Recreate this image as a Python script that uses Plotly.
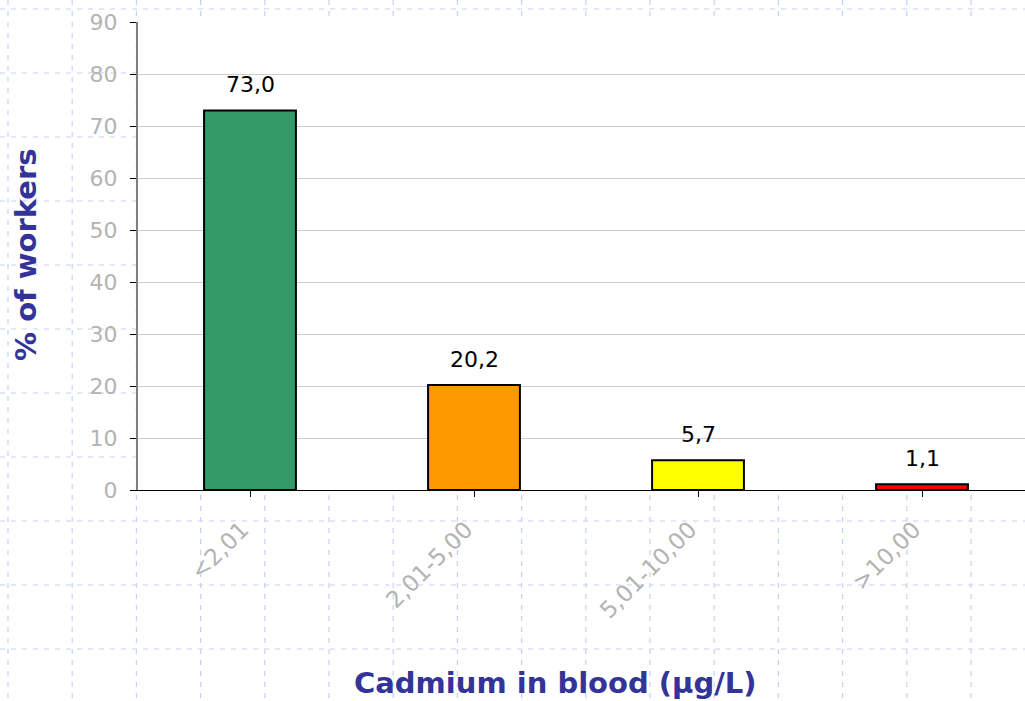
import plotly.graph_objects as go

categories = ["<2,01", "2,01-5,00", "5,01-10,00", ">10,00"]
values = [73.0, 20.2, 5.7, 1.1]
colors = ["#339966", "#FF9900", "#FFFF00", "#FF0000"]
y_ticks = [0, 10, 20, 30, 40, 50, 60, 70, 80, 90]

W, H = 1025, 701
ML, MR, MT, MB = 138, 0, 22, 211
PW, PH = W - ML - MR, H - MT - MB

def px2x(px):
    return (px - ML) / PW

def py2y(py):
    return 1 - (py - MT) / PH

labels = [f"{v:.1f}".replace(".", ",") for v in values]

fig = go.Figure()
fig.add_trace(go.Bar(
    x=list(range(len(categories))), y=values,
    marker=dict(color=colors, line=dict(color="black", width=2)),
    width=0.41, hoverinfo="skip",
))

shapes = []
grid_col = "#c6d1f6"
# slide background dashed grid
xs = [8 + 64.2 * k for k in range(16)]
ys = [9 + 64 * k for k in range(11)]
for gx in xs:
    shapes.append(dict(type="line", xref="paper", yref="paper",
                       x0=px2x(gx), x1=px2x(gx), y0=py2y(0), y1=py2y(H),
                       line=dict(color=grid_col, width=1.2, dash="5px,6px"), layer="below"))
for gy in ys:
    shapes.append(dict(type="line", xref="paper", yref="paper",
                       x0=px2x(0), x1=px2x(W), y0=py2y(gy), y1=py2y(gy),
                       line=dict(color=grid_col, width=1.2, dash="5px,6px"), layer="below"))
shapes.append(dict(type="rect", xref="paper", yref="paper", x0=0, x1=1, y0=0, y1=1,
                   fillcolor="white", line=dict(width=0), layer="below"))

annotations = []
for i, (v, t) in enumerate(zip(values, labels)):
    annotations.append(dict(x=i, y=v, xref="x", yref="y", text=t, showarrow=False,
                            yanchor="bottom", yshift=11,
                            font=dict(family="DejaVu Sans", size=22, color="black")))
annotations.append(dict(xref="paper", yref="paper", x=px2x(555), y=py2y(683),
                        text="<b>Cadmium in blood (µg/L)</b>", showarrow=False,
                        xanchor="center", yanchor="middle",
                        font=dict(family="DejaVu Sans", size=29, color="#333399")))
annotations.append(dict(xref="paper", yref="paper", x=px2x(26), y=py2y(255),
                        text="<b>% of workers</b>", showarrow=False, textangle=-90,
                        xanchor="center", yanchor="middle",
                        font=dict(family="DejaVu Sans", size=29, color="#333399")))

fig.update_layout(
    width=W, height=H,
    margin=dict(l=ML, r=MR, t=MT, b=MB, pad=0),
    paper_bgcolor="white", plot_bgcolor="rgba(0,0,0,0)",
    showlegend=False, bargap=0.59,
    shapes=shapes, annotations=annotations,
    font=dict(family="DejaVu Sans"),
)
fig.update_xaxes(
    tickmode="array", tickvals=list(range(len(categories))), ticktext=categories,
    range=[-0.5, -0.5 + PW / 224.0],
    tickson="boundaries", ticks="outside", ticklen=6, tickcolor="black",
    tickangle=-45, tickfont=dict(family="DejaVu Sans", size=23, color="#b3b3b3"),
    ticklabelstandoff=10, ticklabelshift=-8,
    showline=True, linecolor="black", linewidth=1, showgrid=False, zeroline=False,
    fixedrange=True,
)
fig.update_yaxes(
    range=[0, 90], tickvals=y_ticks, ticks="outside", ticklen=6, tickcolor="black",
    tickfont=dict(family="DejaVu Sans", size=22, color="#b3b3b3"),
    showline=True, linecolor="#7f7f7f", linewidth=2,
    showgrid=True, gridcolor="#cccccc", gridwidth=1, zeroline=False, ticklabelstandoff=8,
    fixedrange=True,
)

fig.write_html("out.html", config={"displayModeBar": False},
               post_script="document.body.style.margin='0px';document.body.style.overflow='hidden';")
